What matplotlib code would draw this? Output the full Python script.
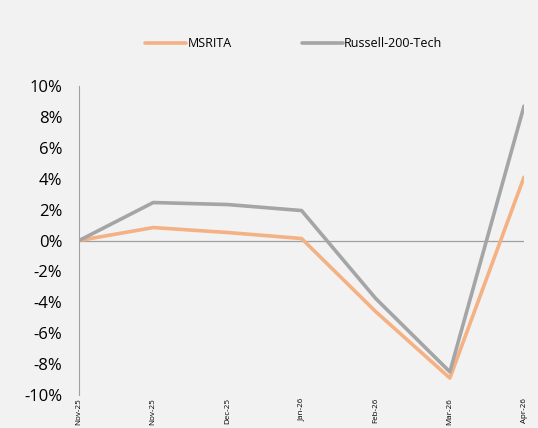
import numpy as np
import matplotlib.pyplot as plt

labels = ['Nov-25', 'Nov-25', 'Dec-25', 'Jan-26', 'Feb-26', 'Mar-26', 'Apr-26']
msrita = [0.0, 0.84, 0.52, 0.13, -4.6, -8.9, 4.1]
russell = [0.0, 2.46, 2.33, 1.94, -3.75, -8.5, 8.7]

bg = '#f2f2f2'
fig = plt.figure(figsize=(5.38, 4.28), dpi=100, facecolor=bg)
ax = fig.add_axes([0.147, 0.077, 0.827, 0.722], facecolor=bg)

x = np.arange(len(labels))
ax.plot(x, msrita, color='#f4b183', lw=2.6, label='MSRITA', solid_capstyle='round')
ax.plot(x, russell, color='#a5a5a5', lw=2.6, label='Russell-200-Tech', solid_capstyle='round')
ax.axhline(0, color='#a0a0a0', lw=0.9, zorder=0)

ax.set_xlim(0, len(labels) - 1)
ax.set_ylim(-10, 10)
ax.set_yticks(np.arange(-10, 11, 2))
ax.set_yticklabels([f'{v}%' for v in range(-10, 11, 2)], fontsize=12, fontfamily='Open Sans')
ax.set_xticks(x)
ax.set_xticklabels(labels, rotation=90, fontsize=5.8, fontfamily='Open Sans')
ax.tick_params(axis='both', length=0)
ax.tick_params(axis='y', pad=12)
ax.tick_params(axis='x', pad=2)
for s in ['top', 'right', 'bottom']:
    ax.spines[s].set_visible(False)
ax.spines['left'].set_color('#a0a0a0')

fig.legend(loc='upper center', bbox_to_anchor=(0.546, 0.94), ncol=2, frameon=False,
           prop={'family': 'Open Sans', 'size': 9}, handlelength=3.3, columnspacing=5.6,
           handletextpad=0.1)

fig.savefig('out.png', dpi=100, facecolor=bg)
